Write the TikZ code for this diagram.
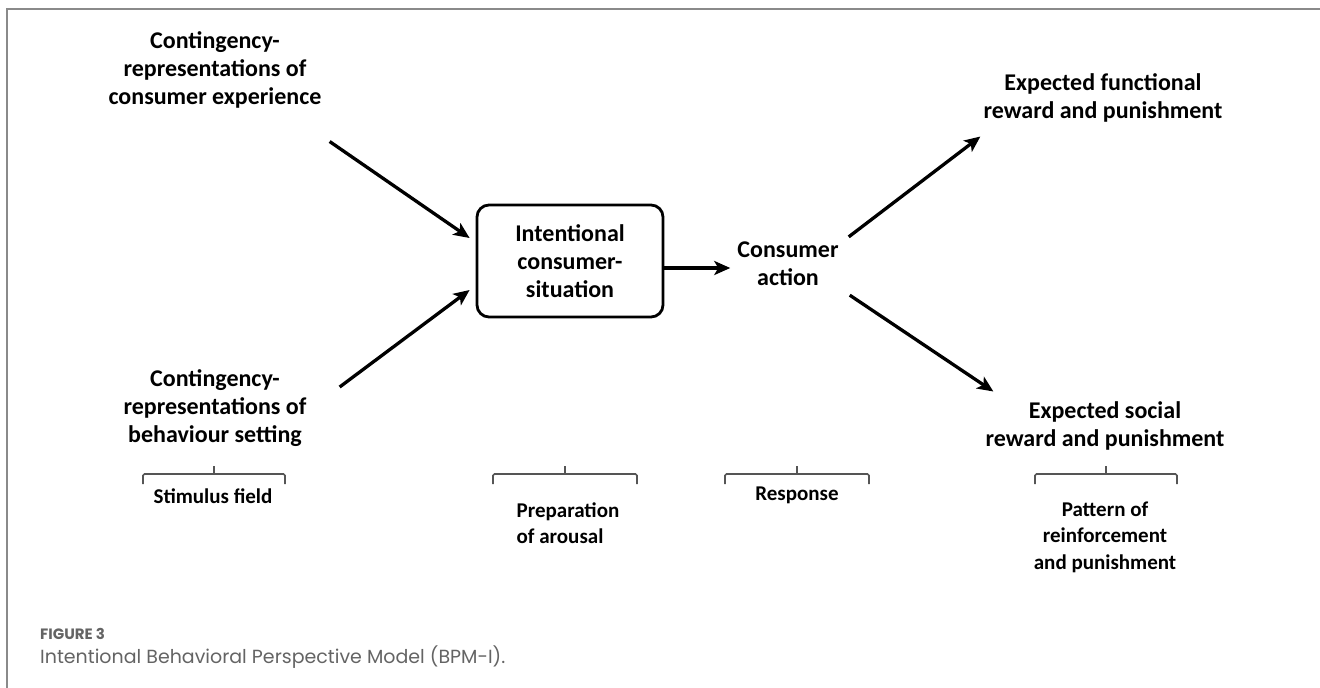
\documentclass[tikz,border=0pt]{standalone}
\usepackage{fontspec}
\setmainfont{Carlito}
\newfontfamily\capfont{Poppins}
\usepackage{tikz}
\usetikzlibrary{arrows.meta}

\definecolor{frameGray}{RGB}{138,138,138}
\definecolor{capGray}{RGB}{100,100,100}
\definecolor{brkGray}{RGB}{85,85,85}

\begin{document}
\begin{tikzpicture}[x=1pt,y=-1pt,
  lbl/.style={align=center,font=\bfseries\fontsize{24}{28}\selectfont,inner sep=4pt},
  sublbl/.style={align=center,font=\bfseries\fontsize{21}{26.5}\selectfont,inner sep=2pt},
  arr/.style={-{Stealth[length=16pt,width=14pt,inset=4pt]},line width=3.3pt},
  brk/.style={brkGray,line width=1.6pt,rounded corners=1.5pt}]
\useasboundingbox (0,0) rectangle (1320,688);
\draw[frameGray,line width=2pt] (7,688) -- (7,9) -- (1320,9);
% stimulus side
\node[lbl] (ce) at (215,70) {Contingency-\\representations of\\consumer experience};
\node[lbl] (cb) at (215,408) {Contingency-\\representations of\\behaviour setting};
\node[lbl,draw,line width=2.8pt,rounded corners=12pt,minimum width=186pt,minimum height=112pt] (box) at (570,261) {Intentional\\consumer-\\situation};
\node[lbl] (act) at (788,264) {Consumer\\action};
% consequences
\node[lbl] (ef) at (1103,98) {Expected functional\\reward and punishment};
\node[lbl] (es) at (1105,426) {Expected social\\reward and punishment};
\draw[arr] ([shift={(4,29)}]ce.south east) -- ([shift={(-6,-23)}]box.west);
\draw[arr] ([shift={(29,-21)}]cb.east) -- ([shift={(-6,29)}]box.west);
\draw[arr,shorten >=3pt] ([yshift=-7pt]box.east) -- ([yshift=-4pt]act.west);
\draw[arr] ([shift={(6,-1)}]act.north east) -- ([shift={(1,10)}]ef.south west);
\draw[arr] ([shift={(7,5)}]act.south east) -- ([shift={(12,-6)}]es.north west);
% brackets
\foreach \x/\w in {214/71,565/72,797/72,1106/71}
  \draw[brk] (\x-\w,484) -- (\x-\w,474) -- (\x+\w,474) -- (\x+\w,484) (\x,474) -- (\x,466);
\node[sublbl] (sf) at (213,496) {Stimulus field};
\node[sublbl,align=left] (pa) at (568,523) {Preparation\\of arousal};
\node[sublbl] (rs) at (797,495) {Response};
\node[sublbl] (pr) at (1105,537) {Pattern of\\reinforcement\\and punishment};
% caption
\node[anchor=west,inner sep=0pt,capGray,font=\capfont\bfseries\fontsize{15}{17}\selectfont] (fig) at (40,634) {FIGURE 3};
\node[anchor=west,inner sep=0pt,capGray,font=\capfont\fontsize{19}{22}\selectfont] (cap) at (40,657) {Intentional Behavioral Perspective Model (BPM-I).};
\end{tikzpicture}
\end{document}
